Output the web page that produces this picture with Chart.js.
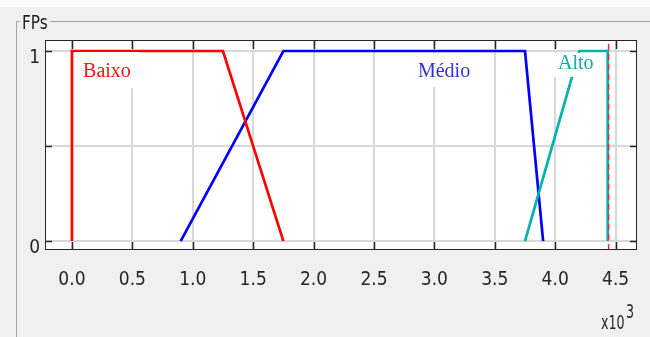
<!DOCTYPE html>
<html>
<head>
<meta charset="utf-8">
<script src="https://cdn.jsdelivr.net/npm/chart.js@4.4.1/dist/chart.umd.min.js"></script>
<style>
  html, body { margin: 0; padding: 0; background: #f0f0f0; }
  #wrap { width: 650px; height: 337px; position: relative; }
</style>
</head>
<body>
<div id="wrap"><canvas id="c" width="650" height="337"></canvas></div>
<script>
// Membership functions of the input variable FPs (x in units, y = degree)
const baixoX = [0, 0, 1250, 1750];
const baixoY = [0, 1, 1, 0];
const medioX = [900, 1750, 3750, 3900];
const medioY = [0, 1, 1, 0];
const altoX = [3750, 4200, 4435, 4435];
const altoY = [0, 1, 1, 0];
// Current input value (vertical marker)
const entradaX = 4442;

const xTicks = [0, 500, 1000, 1500, 2000, 2500, 3000, 3500, 4000, 4500];
const yTicks = [0, 0.5, 1];
const yTickLabels = ['0', '', '1'];
const setNames = ['Baixo', 'Médio', 'Alto'];
const groupTitle = 'FPs';
const xExponent = '3';

const X_MIN = -223, X_MAX = 4677, Y_MIN = -0.047, Y_MAX = 1.058;
const NARROW = '"DejaVu Sans Condensed", "Liberation Sans Narrow", "Liberation Sans", sans-serif';
const SERIF = '"Liberation Serif", "Times New Roman", serif';

const pts = (xs, ys) => xs.map((x, i) => ({ x, y: ys[i] }));

// Set labels: anchor in data space, colours and box padding
const labelSpecs = [
  { text: setNames[0], x: 290, y: 0.863, color: '#f21515', padX: 8, padTop: 13, padBot: 11 },
  { text: setNames[1], x: 3080, y: 0.863, color: '#3434d2', padX: 10, padTop: 12, padBot: 10 },
  { text: setNames[2], x: 4170, y: 0.906, color: '#17a9a3', padX: 8, padTop: 4, padBot: 8 }
];

// narrow, tall text for the frame annotations
function narrowText(ctx, text, x, y, size, sx) {
  ctx.save();
  ctx.translate(x, y);
  ctx.scale(sx, 1);
  ctx.font = size + 'px ' + NARROW;
  ctx.fillText(text, 0, 0);
  ctx.restore();
}

const fisPlugin = {
  id: 'fisFrame',
  beforeDraw(chart) {
    const { ctx, chartArea: a } = chart;
    ctx.save();
    ctx.fillStyle = '#f0f0f0';
    ctx.fillRect(0, 0, chart.width, chart.height);
    ctx.fillStyle = '#fbfbfb';
    ctx.fillRect(0, 0, chart.width, 7);
    ctx.fillStyle = '#ffffff';
    ctx.fillRect(a.left, a.top, a.right - a.left, a.bottom - a.top);
    // group box outline
    ctx.strokeStyle = '#a3a3a3';
    ctx.lineWidth = 1;
    ctx.beginPath();
    ctx.moveTo(16.5, chart.height);
    ctx.lineTo(16.5, 21.5);
    ctx.lineTo(20, 21.5);
    ctx.moveTo(50, 21.5);
    ctx.lineTo(chart.width, 21.5);
    ctx.stroke();
    ctx.fillStyle = '#222';
    ctx.textBaseline = 'alphabetic';
    ctx.textAlign = 'left';
    narrowText(ctx, groupTitle, 22, 29, 20, 0.85);
    ctx.restore();
  },
  afterDatasetsDraw(chart) {
    const { ctx, scales: { x, y } } = chart;
    ctx.save();
    ctx.font = '20px ' + SERIF;
    ctx.textBaseline = 'alphabetic';
    ctx.textAlign = 'center';
    labelSpecs.forEach(l => {
      const px = x.getPixelForValue(l.x);
      const py = y.getPixelForValue(l.y);
      const w = ctx.measureText(l.text).width;
      ctx.fillStyle = '#ffffff';
      ctx.fillRect(px - w / 2 - l.padX, py - 12 - l.padTop, w + 2 * l.padX, 12 + l.padTop + l.padBot);
      ctx.fillStyle = l.color;
      ctx.fillText(l.text, px, py);
    });
    ctx.restore();
  },
  afterDraw(chart) {
    const { ctx, chartArea: a, scales: { x, y } } = chart;
    ctx.save();
    ctx.strokeStyle = '#262626';
    ctx.lineWidth = 1;
    ctx.strokeRect(a.left + 0.5, a.top + 0.5, a.right - a.left - 1, a.bottom - a.top - 1);
    ctx.lineWidth = 1.5;
    ctx.beginPath();
    xTicks.forEach(v => {
      const px = Math.round(x.getPixelForValue(v)) + 0.5;
      ctx.moveTo(px, a.top); ctx.lineTo(px, a.top + 9);
      ctx.moveTo(px, a.bottom); ctx.lineTo(px, a.bottom - 8);
    });
    yTicks.forEach(v => {
      const py = Math.round(y.getPixelForValue(v)) + 0.5;
      ctx.moveTo(a.left, py); ctx.lineTo(a.left + 7, py);
      ctx.moveTo(a.right, py); ctx.lineTo(a.right - 7, py);
    });
    ctx.stroke();
    // axis multiplier
    ctx.fillStyle = '#262626';
    ctx.textAlign = 'left';
    ctx.textBaseline = 'alphabetic';
    narrowText(ctx, 'x10', 601, 329, 19, 0.74);
    narrowText(ctx, xExponent, 626, 318, 19, 0.74);
    ctx.restore();
  }
};

const line = (label, data, color, width, extra) => Object.assign({
  label, data, borderColor: color, backgroundColor: color, borderWidth: width,
  showLine: true, pointRadius: 0, fill: false, tension: 0
}, extra || {});

new Chart(document.getElementById('c'), {
  type: 'scatter',
  data: {
    datasets: [
      line('marcador', [{ x: entradaX, y: Y_MIN }, { x: entradaX, y: Y_MAX }], '#ff2a2a', 1.5, { borderDash: [6, 4] }),
      line(setNames[2], pts(altoX, altoY), '#00b3ad', 2.7),
      line(setNames[0], pts(baixoX, baixoY), '#ff0000', 2.7),
      line(setNames[1], pts(medioX, medioY), '#0000ff', 2.7)
    ]
  },
  options: {
    responsive: false,
    animation: false,
    devicePixelRatio: 1,
    layout: { padding: { top: 40, right: 13, left: 0, bottom: 0 } },
    plugins: { legend: { display: false }, tooltip: { enabled: false } },
    scales: {
      x: {
        type: 'linear', min: X_MIN, max: X_MAX,
        afterBuildTicks: s => { s.ticks = xTicks.map(v => ({ value: v })); },
        afterFit: s => { s.height = 87; },
        grid: { color: '#d8d8d8', lineWidth: 2, drawTicks: false },
        border: { display: false },
        ticks: {
          color: '#262626', font: { family: NARROW, size: 19 }, padding: 19, maxRotation: 0,
          callback: v => (v / 1000).toFixed(1)
        }
      },
      y: {
        type: 'linear', min: Y_MIN, max: Y_MAX,
        afterBuildTicks: s => { s.ticks = yTicks.map(v => ({ value: v })); },
        afterFit: s => { s.width = 45; },
        grid: { color: '#d8d8d8', lineWidth: 2, drawTicks: false },
        border: { display: false },
        ticks: {
          color: '#262626', font: { family: NARROW, size: 19 }, padding: 5, labelOffset: 7,
          callback: v => yTickLabels[yTicks.indexOf(v)]
        }
      }
    }
  },
  plugins: [fisPlugin]
});
</script>
</body>
</html>
